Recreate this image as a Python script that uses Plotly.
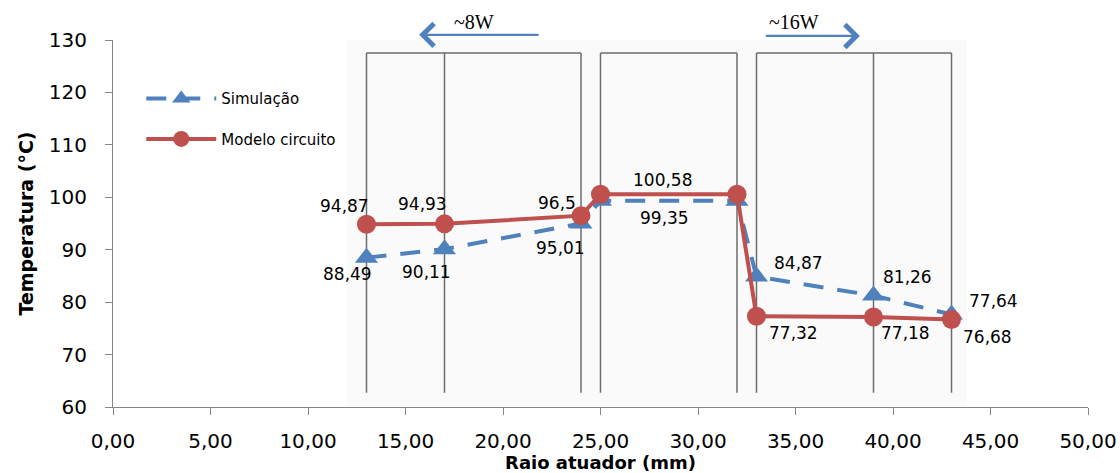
import plotly.graph_objects as go

# ---- data ----
raio = [13, 17, 24, 25, 32, 33, 39, 43]
simulacao = [88.49, 90.11, 95.01, 99.35, 99.35, 84.87, 81.26, 77.64]
modelo = [94.87, 94.93, 96.5, 100.58, 100.58, 77.32, 77.18, 76.68]
x_ticks = [0, 5, 10, 15, 20, 25, 30, 35, 40, 45, 50]
y_ticks = [60, 70, 80, 90, 100, 110, 120, 130]
zones = [[13, 17, 24], [25, 32], [33, 39, 43]]
power_labels = ["~8W", "~16W"]

# ---- styles ----
BLUE = "#4f81bd"
RED = "#c0504d"
FONT = "DejaVu Sans"
# label pixel offsets (dx, dy) per point; None = no label
red_off = [(-22, 18), (-22, 20), (-24, 13), (62, 14), None, (37, -17), (32, -16), (36, -17)]
blue_off = [(-19, -16), (-18, -23), (-21, -25), (64, -17), None, (42, 14), (34, 19), (42, 14)]


def fmt(v):
    return ("%g" % v).replace(".", ",")


fig = go.Figure()

fig.add_trace(go.Scatter(
    x=raio, y=simulacao, name="Simulação", mode="lines+markers",
    line=dict(color=BLUE, width=4, dash="20px,14px"),
    marker=dict(symbol="triangle-up", size=20, color=BLUE),
    legendgroup="a", cliponaxis=False,
))
fig.add_trace(go.Scatter(
    x=raio, y=modelo, name="Modelo circuito", mode="lines+markers",
    line=dict(color=RED, width=4),
    marker=dict(symbol="circle", size=19, color=RED),
    legendgroup="b", cliponaxis=False,
))

annotations = []
for xs, ys, offs in ((raio, modelo, red_off), (raio, simulacao, blue_off)):
    for xv, yv, off in zip(xs, ys, offs):
        if off is None:
            continue
        annotations.append(dict(
            x=xv, y=yv, xref="x", yref="y", text=fmt(yv), showarrow=False,
            xshift=off[0], yshift=off[1],
            font=dict(family=FONT, size=17, color="#000000"),
        ))

# power arrows (above the plot area, in paper y)
annotations.append(dict(x=15.7, y=1.014, ax=21.9, ay=0, xref="x", yref="paper",
                        axref="x", ayref="pixel", showarrow=True, arrowhead=4,
                        arrowsize=2, arrowwidth=2.2, arrowcolor=BLUE, text=""))
annotations.append(dict(x=38.3, y=1.011, ax=33.4, ay=0, xref="x", yref="paper",
                        axref="x", ayref="pixel", showarrow=True, arrowhead=4,
                        arrowsize=2, arrowwidth=2.2, arrowcolor=BLUE, text=""))
annotations.append(dict(x=18.5, y=1.049, xref="x", yref="paper", text=power_labels[0],
                        showarrow=False, xanchor="center", yanchor="middle",
                        font=dict(family="Liberation Serif", size=20, color="#000000")))
annotations.append(dict(x=34.9, y=1.049, xref="x", yref="paper", text=power_labels[1],
                        showarrow=False, xanchor="center", yanchor="middle",
                        font=dict(family="Liberation Serif", size=20, color="#000000")))

# background panel and zone boxes
shapes = [dict(type="rect", xref="x", yref="y", x0=12.0, x1=43.8, y0=60, y1=130,
               fillcolor="#fafafa", line=dict(width=0), layer="below")]
BOX_TOP, BOX_BOT = 127.5, 62.7
for z in zones:
    shapes.append(dict(type="line", xref="x", yref="y", x0=z[0], x1=z[-1],
                       y0=BOX_TOP, y1=BOX_TOP, line=dict(color="#6d6d6d", width=1.5),
                       layer="below"))
    for xv in z:
        shapes.append(dict(type="line", xref="x", yref="y", x0=xv, x1=xv,
                           y0=BOX_BOT, y1=BOX_TOP, line=dict(color="#6d6d6d", width=1.5),
                           layer="below"))

fig.update_layout(
    width=1120, height=473,
    margin=dict(l=113, r=32, t=40, b=66),
    paper_bgcolor="white", plot_bgcolor="white",
    font=dict(family=FONT, color="#000000"),
    showlegend=True,
    legend=dict(x=0.029, y=0.885, xanchor="left", yanchor="top",
                bgcolor="rgba(0,0,0,0)", font=dict(family=FONT, size=15),
                itemwidth=70, tracegroupgap=18),
    annotations=annotations,
    shapes=shapes,
)

fig.update_xaxes(
    range=[0, 50], tickvals=x_ticks, ticktext=[f"{v:.2f}".replace(".", ",") for v in x_ticks],
    showgrid=False, zeroline=False, showline=True, linecolor="#868686", linewidth=1,
    ticks="outside", ticklen=7, tickcolor="#868686", ticklabelstandoff=9,
    tickfont=dict(family=FONT, size=20),
    title=dict(text="<b>Raio atuador (mm)</b>", font=dict(family=FONT, size=18), standoff=0),
    automargin=False,
)
fig.update_yaxes(
    range=[60, 130], tickvals=y_ticks,
    showgrid=False, zeroline=False, showline=True, linecolor="#868686", linewidth=1,
    ticks="outside", ticklen=7, tickcolor="#868686", ticklabelstandoff=14,
    tickfont=dict(family=FONT, size=20),
    title=dict(text="<b>Temperatura (°C)</b>", font=dict(family=FONT, size=19), standoff=10),
    automargin=False,
)

fig.write_html("out.html")
